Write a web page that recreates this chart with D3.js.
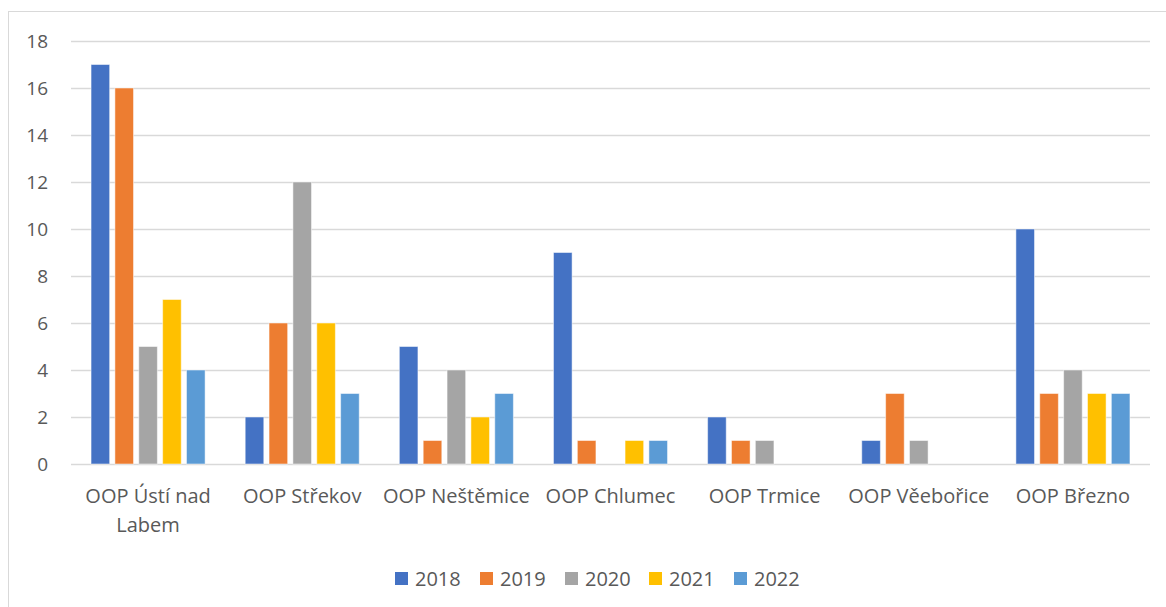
<!DOCTYPE html>
<html><head><meta charset="utf-8">
<script src="https://cdn.jsdelivr.net/npm/d3@7"></script>
<style>body{margin:0;background:#fff;} text{font-family:"Open Sans","Liberation Sans",sans-serif;}</style>
</head><body>
<svg id="c" width="1166" height="607"></svg>
<script>
const categories = ["OOP Ústí nad Labem","OOP Střekov","OOP Neštěmice","OOP Chlumec","OOP Trmice","OOP Věebořice","OOP Březno"];
const years = ["2018","2019","2020","2021","2022"];
const v2018 = [17,2,5,9,2,1,10];
const v2019 = [16,6,1,1,1,3,3];
const v2020 = [5,12,4,0,1,1,4];
const v2021 = [7,6,2,1,0,0,3];
const v2022 = [4,3,3,1,0,0,3];
const yTicks = [0,2,4,6,8,10,12,14,16,18];
const colors = ["#4472C4","#ED7D31","#A5A5A5","#FFC000","#5B9BD5"];
const seriesVals = [v2018,v2019,v2020,v2021,v2022];

const svg = d3.select("#c");
svg.append("rect").attr("x",8.5).attr("y",11.5).attr("width",1170).attr("height",600)
  .attr("fill","none").attr("stroke","#d9d9d9").attr("stroke-width",1);

const L=71, R=1150, T=41, B=464;
const x = d3.scaleBand().domain(categories).range([L,R]).paddingInner(0).paddingOuter(0);
const xi = d3.scaleBand().domain(years).range([0,x.bandwidth()]).paddingInner(0.22).paddingOuter(0.84);
const y = d3.scaleLinear().domain([0,18]).range([B,T]);

const grid = svg.append("g");
grid.selectAll("line").data(yTicks).join("line")
  .attr("x1",L).attr("x2",R).attr("y1",d=>y(d)+0.5).attr("y2",d=>y(d)+0.5)
  .attr("stroke","#d9d9d9").attr("stroke-width",1.3);

const yAxis = d3.axisLeft(y).tickValues(yTicks).tickSize(0).tickPadding(0);
const ya = svg.append("g").attr("transform",`translate(48,0)`).call(yAxis);
ya.select(".domain").remove();
ya.selectAll("text").attr("fill","#595959").style("font-size","19px").attr("dy","0.35em");

const groups = svg.append("g").selectAll("g").data(categories).join("g")
  .attr("transform",d=>`translate(${x(d)},0)`);
groups.selectAll("rect").data((d,i)=>years.map((yr,j)=>({yr,j,v:seriesVals[j][i]}))).join("rect")
  .attr("x",d=>xi(d.yr)).attr("width",xi.bandwidth())
  .attr("y",d=>y(d.v)).attr("height",d=>B-y(d.v))
  .attr("fill",d=>colors[d.j]).attr("stroke","#ffffff").attr("stroke-opacity",0.5).attr("stroke-width",1);

const xa = svg.append("g").attr("transform",`translate(0,${B})`)
  .call(d3.axisBottom(x).tickSize(0).tickPadding(0));
xa.select(".domain").remove();
xa.selectAll("text").attr("fill","#595959").style("font-size","20px").attr("y",0).attr("dy",0)
  .each(function(d){
    const t=d3.select(this); t.text(null);
    const words=d.split(" "); let lines=[], cur="";
    const maxW=148;
    const meas = t.append("tspan");
    words.forEach(w=>{
      const test = cur? cur+" "+w : w;
      meas.text(test);
      if(meas.node().getComputedTextLength()>maxW && cur){lines.push(cur);cur=w;} else cur=test;
    });
    lines.push(cur); meas.remove();
    lines.forEach((ln,k)=>t.append("tspan").attr("x",0).attr("y",39+k*29).text(ln));
  });

const leg = svg.append("g");
const legX = [395,480,565,649,734];
years.forEach((yr,j)=>{
  leg.append("rect").attr("x",legX[j]).attr("y",572).attr("width",13).attr("height",13).attr("fill",colors[j]);
  leg.append("text").attr("x",legX[j]+20).attr("y",586).attr("fill","#595959").style("font-size","20px").text(yr);
});
</script>
</body></html>
